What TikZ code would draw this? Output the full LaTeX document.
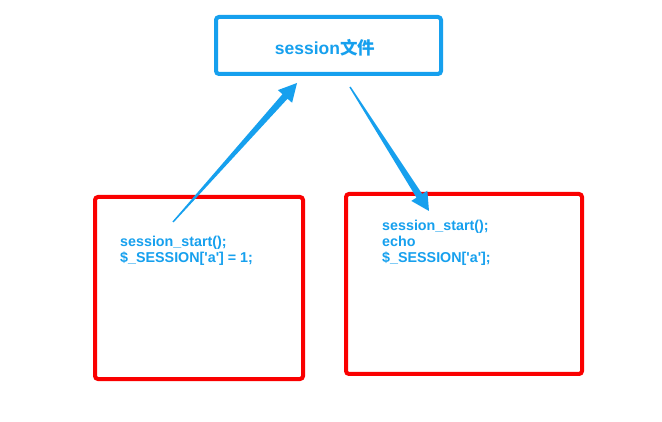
\documentclass[tikz,border=0pt]{standalone}
\usepackage{fontspec}
\setmainfont{Liberation Sans}
\newfontfamily\cjk{Noto Sans CJK SC}
\usetikzlibrary{calc,shadows}
\definecolor{skblue}{RGB}{22,160,238}
\definecolor{skred}{RGB}{250,0,0}
\begin{document}
\begin{tikzpicture}[x=1pt,y=-1pt,
  bluebox/.style={draw=skblue,line width=4pt,rounded corners=3pt,fill=white,
    drop shadow={opacity=0.35,shadow xshift=1.2pt,shadow yshift=-1.2pt}},
  redbox/.style={draw=skred,line width=4pt,rounded corners=3pt,fill=white,
    drop shadow={opacity=0.35,shadow xshift=1.2pt,shadow yshift=-1.2pt}},
  code/.style={font=\bfseries\fontsize{14.3}{16}\selectfont,text=skblue,align=left,inner sep=0pt,anchor=west},
  arrowfill/.style={fill=skblue,draw=none}]
\useasboundingbox[fill=white] (0,0) rectangle (662,422);
\draw[bluebox] (216,17) rectangle (441,74);
\node[inner sep=0pt,text=skblue,font=\bfseries\fontsize{17.5}{20}\selectfont] (file) at (325,48) {session{\cjk 文件}};
\draw[redbox] (95,197) rectangle (303,379);
\draw[redbox] (346,194) rectangle (582,374);
\node[code] (left) at (120,250.5) {session\_start();\\\$\_SESSION[\textquotesingle a\textquotesingle] = 1;};
\node[code] (right) at (382,243) {session\_start();\\echo\\\$\_SESSION[\textquotesingle a\textquotesingle];};
% tapered arrows
\coordinate (a1) at (173,222);
\coordinate (b1) at (297,83);
\coordinate (a2) at (350,87);
\coordinate (b2) at (429,211);
\foreach \A/\B in {a1/b1,a2/b2}{
  \coordinate (h) at ($(\B)!18pt!(\A)$);
  \fill[arrowfill] ($(\A)!0.7pt!90:(\B)$) -- ($(h)!3.4pt!90:(\B)$) -- ($(h)!9.5pt!90:(\B)$)
    -- (\B) -- ($(h)!9.5pt!-90:(\B)$) -- ($(h)!3.4pt!-90:(\B)$) -- ($(\A)!0.7pt!-90:(\B)$) -- cycle;
}
\end{tikzpicture}
\end{document}
